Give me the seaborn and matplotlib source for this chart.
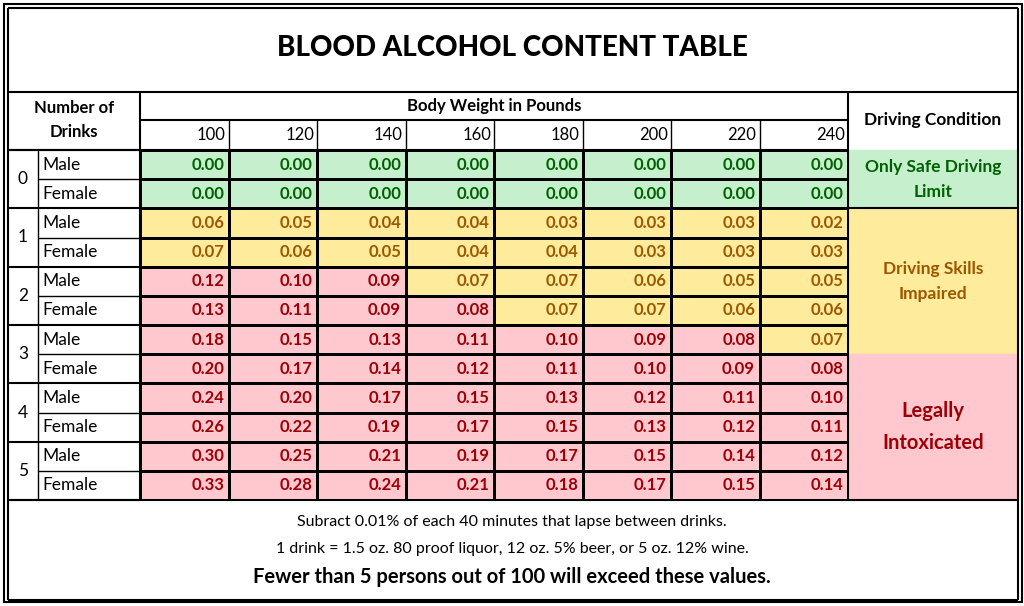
import numpy as np
import matplotlib.pyplot as plt
import seaborn as sns
from matplotlib.colors import ListedColormap

weights = [100, 120, 140, 160, 180, 200, 220, 240]
drinks = [0, 1, 2, 3, 4, 5]
sexes = ["Male", "Female"]
bac = [
    [0.00, 0.00, 0.00, 0.00, 0.00, 0.00, 0.00, 0.00],
    [0.00, 0.00, 0.00, 0.00, 0.00, 0.00, 0.00, 0.00],
    [0.06, 0.05, 0.04, 0.04, 0.03, 0.03, 0.03, 0.02],
    [0.07, 0.06, 0.05, 0.04, 0.04, 0.03, 0.03, 0.03],
    [0.12, 0.10, 0.09, 0.07, 0.07, 0.06, 0.05, 0.05],
    [0.13, 0.11, 0.09, 0.08, 0.07, 0.07, 0.06, 0.06],
    [0.18, 0.15, 0.13, 0.11, 0.10, 0.09, 0.08, 0.07],
    [0.20, 0.17, 0.14, 0.12, 0.11, 0.10, 0.09, 0.08],
    [0.24, 0.20, 0.17, 0.15, 0.13, 0.12, 0.11, 0.10],
    [0.26, 0.22, 0.19, 0.17, 0.15, 0.13, 0.12, 0.11],
    [0.30, 0.25, 0.21, 0.19, 0.17, 0.15, 0.14, 0.12],
    [0.33, 0.28, 0.24, 0.21, 0.18, 0.17, 0.15, 0.14],
]
conditions = ["Only Safe Driving\nLimit", "Driving Skills\nImpaired", "Legally\nIntoxicated"]
cond_rows = [(0, 2), (2, 7), (7, 12)]
cond_sizes = [12.5, 12.5, 14.5]

fills = ["#c6efce", "#ffeb9c", "#ffc7ce"]
texts = ["#006100", "#9c5700", "#9c0006"]

vals = np.array(bac)
cat = np.where(vals == 0, 0, np.where(vals < 0.08, 1, 2))

plt.rcParams["font.family"] = "Lato"
W, H = 1024, 606
fig = plt.figure(figsize=(W / 100, H / 100), dpi=100)
ax = fig.add_axes([0, 0, 1, 1])
ax.set_xlim(0, W)
ax.set_ylim(H, 0)
ax.axis("off")

# grid geometry in pixels
x0, x1, x2, x3 = 8, 38, 140, 848
xr = 1018
yt, yh1, yh2, yd0, yd1, yb = 8, 92, 120, 150, 500, 600
rh = (yd1 - yd0) / 12
cw = (x3 - x2) / 8

def line(xa, ya, xb, yb_, lw=1.5):
    ax.plot([xa, xb], [ya, yb_], color="black", lw=lw, solid_capstyle="butt")

# heatmap of values
hm = fig.add_axes([x2 / W, 1 - yd1 / H, (x3 - x2) / W, (yd1 - yd0) / H])
sns.heatmap(cat, ax=hm, cmap=ListedColormap(fills), vmin=-0.5, vmax=2.5, cbar=False,
            annot=False, linewidths=1.0, linecolor="black", xticklabels=False, yticklabels=False)
for i in range(12):
    for j in range(8):
        hm.text(j + 0.95, i + 0.5, f"{vals[i, j]:.2f}", ha="right", va="center",
                fontsize=12, fontweight="bold", color=texts[cat[i, j]])

# driving condition column
for (a, b), lab, f, t, fs in zip(cond_rows, conditions, fills, texts, cond_sizes):
    ya, yb2 = yd0 + a * rh, yd0 + b * rh
    ax.add_patch(plt.Rectangle((x3, ya), xr - x3, yb2 - ya, color=f, zorder=0))
    ax.text((x3 + xr) / 2, (ya + yb2) / 2, lab, ha="center", va="center", fontsize=fs,
            fontweight="bold", color=t, linespacing=1.7)
    if b < 7:
        line(x3, yb2, xr, yb2)

# outer frame and header lines
ax.add_patch(plt.Rectangle((x0 - 4, 4), xr - x0 + 8, H - 8, fill=False, lw=1.5))
line(x0, yt, xr, yt); line(x0, yb, xr, yb)
line(x0, yt, x0, yb); line(xr, yt, xr, yb)
line(x0, yh1, xr, yh1)
line(x2, yh2, x3, yh2)
line(x0, yd0, x3, yd0)
line(x0, yd1, xr, yd1)
line(x2, yh1, x2, yd1); line(x3, yh1, x3, yd1)
for j in range(1, 8):
    line(x2 + j * cw, yh2, x2 + j * cw, yd0, lw=1.0)
for i in range(13):
    y = yd0 + i * rh
    line(x1 if i % 2 else x0, y, x2, y, lw=1.0 if i % 2 else 1.5)
line(x1, yd0, x1, yd1, lw=1.0)

ax.text(W / 2, 48, "BLOOD ALCOHOL CONTENT TABLE", ha="center", va="center",
        fontsize=20, fontweight="black")
ax.text((x0 + x2) / 2, 120, "Number of\nDrinks", ha="center", va="center",
        fontsize=12, fontweight="bold", linespacing=1.6)
ax.text((x2 + x3) / 2, 106, "Body Weight in Pounds", ha="center", va="center",
        fontsize=12, fontweight="bold")
ax.text((x3 + xr) / 2, 120, "Driving Condition", ha="center", va="center",
        fontsize=12.5, fontweight="bold")
for j, w in enumerate(weights):
    ax.text(x2 + (j + 1) * cw - 3, 135, str(w), ha="right", va="center", fontsize=12)
for k, d in enumerate(drinks):
    ax.text((x0 + x1) / 2, yd0 + (2 * k + 1) * rh, str(d), ha="center", va="center", fontsize=12.5)
    for s, sx in enumerate(sexes):
        ax.text(x1 + 4, yd0 + (2 * k + s + 0.5) * rh, sx, ha="left", va="center", fontsize=12.5)

ax.text(W / 2, 522, "Subract 0.01% of each 40 minutes that lapse between drinks.",
        ha="center", va="center", fontsize=11.5)
ax.text(W / 2, 549, "1 drink = 1.5 oz. 80 proof liquor, 12 oz. 5% beer, or 5 oz. 12% wine.",
        ha="center", va="center", fontsize=11.5)
ax.text(W / 2, 577, "Fewer than 5 persons out of 100 will exceed these values.",
        ha="center", va="center", fontsize=14.5, fontweight="bold")

fig.savefig("out.png", dpi=100)
